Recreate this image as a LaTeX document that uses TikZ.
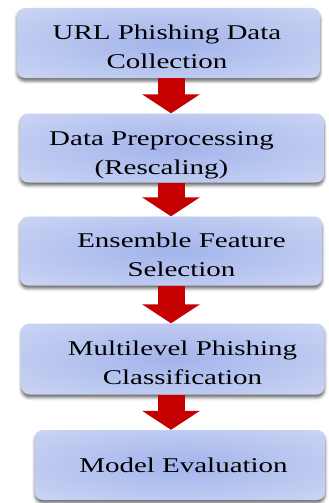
\documentclass[tikz,border=0pt]{standalone}
\usepackage{fontspec}
\setmainfont{Liberation Serif}[FakeStretch=1.38]
\usetikzlibrary{positioning,arrows.meta,shadows.blur}

\definecolor{boxin}{RGB}{163,180,235}
\definecolor{boxmid}{RGB}{196,207,242}
\definecolor{boxout}{RGB}{224,229,248}
\definecolor{flowred}{RGB}{196,0,0}
\pgfdeclareradialshading{stageshade}{\pgfpoint{0bp}{0bp}}{%
    color(0bp)=(boxin); color(30bp)=(boxmid); color(50bp)=(boxout);
    color(72bp)=(boxout)}

\begin{document}
\begin{tikzpicture}[x=1pt, y=-1pt,
    stage/.style={rectangle, rounded corners=8pt, inner sep=0pt,
        shading=stageshade,
        blur shadow={shadow xshift=0pt, shadow yshift=-3pt,
            shadow blur radius=3pt, shadow opacity=60}},
    caption/.style={align=center, inner sep=0pt,
        font=\fontsize{21}{29}\selectfont},
    flow/.style={draw=flowred, line width=27pt,
        -{Triangle[width=57pt, length=19pt]}, color=flowred}
    ]
    \useasboundingbox (0,0) rectangle (329,503);
    \coordinate (axis) at (171,0);

    % step 1
    \node[stage, minimum width=303pt, minimum height=70pt] (s1) at (168.5,43) {};
    \node[caption] (t1) at (167,47) {URL Phishing Data\\Collection};

    % step 2
    \node[stage, minimum width=304pt, minimum height=69pt] (s2) at (172,148) {};
    \node[caption] (t2) at (161.5,155) {Data Preprocessing\\(Rescaling)};

    % step 3
    \node[stage, minimum width=302pt, minimum height=69pt] (s3) at (171,251) {};
    \node[caption] (t3) at (181.5,255) {Ensemble Feature\\Selection};

    % step 4
    \node[stage, minimum width=303pt, minimum height=71pt] (s4) at (173,359) {};
    \node[caption] (t4) at (182.5,363) {Multilevel Phishing\\Classification};

    % step 5
    \node[stage, minimum width=290pt, minimum height=70pt] (s5) at (180,465) {};
    \node[caption] (t5) at (183.5,465) {Model Evaluation};

    % arrows between the steps
    \draw[flow] (s1.south -| axis) -- (s2.north -| axis);
    \draw[flow] (s2.south -| axis) -- (s3.north -| axis);
    \draw[flow] (s3.south -| axis) -- (s4.north -| axis);
    \draw[flow] (s4.south -| axis) -- (s5.north -| axis);
\end{tikzpicture}
\end{document}
